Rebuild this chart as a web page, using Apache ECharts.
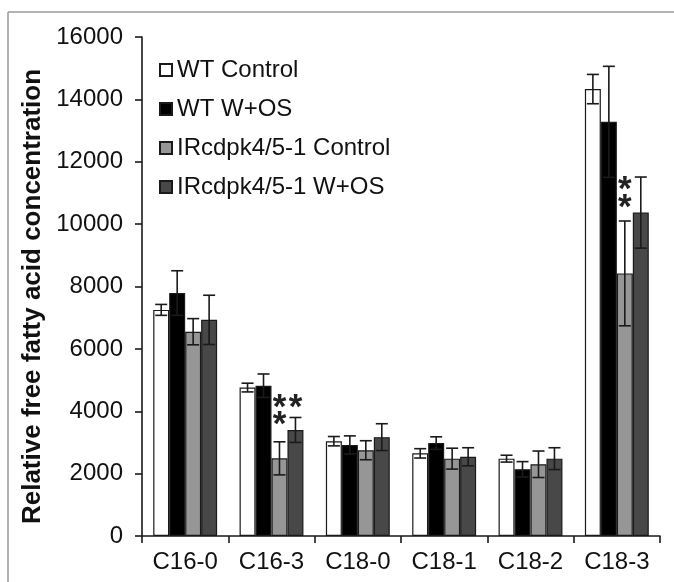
<!doctype html>
<html>
<head>
<meta charset="utf-8">
<title>Relative free fatty acid concentration</title>
<script src="https://cdn.jsdelivr.net/npm/echarts@6.0.0/dist/echarts.min.js"></script>
<style>
  html, body { margin: 0; padding: 0; background: #fff; }
  #chart { width: 674px; height: 582px; }
</style>
</head>
<body>
<div id="chart"></div>
<script>
// categories and values
var categories = ['C16-0', 'C16-3', 'C18-0', 'C18-1', 'C18-2', 'C18-3'];
var seriesNames = ['WT Control', 'WT W+OS', 'IRcdpk4/5-1 Control', 'IRcdpk4/5-1 W+OS'];

var wtControl    = [7250, 4760, 3040, 2650, 2480, 14330];
var wtControlErr = [175, 140, 150, 150, 110, 470];
var wtWos        = [7790, 4820, 2920, 2980, 2140, 13280];
var wtWosErr     = [715, 375, 290, 200, 245, 1780];
var irControl    = [6550, 2490, 2750, 2480, 2300, 8420];
var irControlErr = [420, 530, 305, 335, 425, 1680];
var irWos        = [6930, 3400, 3170, 2540, 2480, 10370];
var irWosErr     = [790, 400, 430, 290, 350, 1140];

// significance marks: [category index, bar slot, value where the star sits]
var stars = [[1, 2, 4360], [1, 2, 3810], [1, 3, 4360], [5, 2, 11350], [5, 2, 10770]];

var yTicks = [0, 2000, 4000, 6000, 8000, 10000, 12000, 14000, 16000];

var colors = ['#ffffff', '#000000', '#969696', '#484848'];
var values = [wtControl, wtWos, irControl, irWos];
var errors = [wtControlErr, wtWosErr, irControlErr, irWosErr];
var catGap = 0.26;
var font = '"Liberation Sans", Arial, sans-serif';

var chart = echarts.init(document.getElementById('chart'));

function slotX(api, cat, slot) {
  var band = api.size([1, 0])[0];
  var bw = band * (1 - catGap) / 4;
  return api.coord([cat, 0])[0] + (slot - 1.5) * bw;
}

function errorRender(slot) {
  return function (params, api) {
    var c = api.value(0), v = api.value(1), e = api.value(2);
    var x = slotX(api, c, slot);
    var top = api.coord([c, v + e])[1];
    var bot = api.coord([c, v - e])[1];
    var half = 6;
    var st = { stroke: '#1a1a1a', lineWidth: 1.6 };
    return {
      type: 'group',
      children: [
        { type: 'line', shape: { x1: x, y1: top, x2: x, y2: bot }, style: st },
        { type: 'line', shape: { x1: x - half, y1: top, x2: x + half, y2: top }, style: st },
        { type: 'line', shape: { x1: x - half, y1: bot, x2: x + half, y2: bot }, style: st }
      ]
    };
  };
}

var series = [];
for (var i = 0; i < 4; i++) {
  series.push({
    name: seriesNames[i],
    type: 'bar',
    data: values[i],
    barGap: 0,
    barCategoryGap: (catGap * 100) + '%',
    itemStyle: { color: colors[i], borderColor: '#1a1a1a', borderWidth: 1.2 }
  });
}
for (var j = 0; j < 4; j++) {
  var errData = [];
  for (var k = 0; k < categories.length; k++) {
    errData.push([k, values[j][k], errors[j][k]]);
  }
  series.push({
    name: 'err' + j,
    type: 'custom',
    renderItem: errorRender(j),
    data: errData,
    z: 5,
    silent: true
  });
}
series.push({
  name: 'stars',
  type: 'custom',
  data: stars,
  z: 6,
  silent: true,
  renderItem: function (params, api) {
    var c = api.value(0), slot = api.value(1), v = api.value(2);
    var x = slotX(api, c, slot);
    var y = api.coord([c, v])[1];
    return {
      type: 'text',
      x: x,
      y: y + 8,
      style: {
        text: '*',
        fontSize: 35,
        fontWeight: 'bold',
        fontFamily: font,
        fill: '#222',
        align: 'center',
        verticalAlign: 'middle'
      }
    };
  }
});

var option = {
  animation: false,
  backgroundColor: '#fff',
  grid: { left: 142, right: 14, top: 37, bottom: 46 },
  legend: {
    data: seriesNames,
    orient: 'vertical',
    left: 154,
    top: 53,
    itemWidth: 12,
    itemHeight: 12,
    itemGap: 15,
    icon: 'rect',
    textStyle: { fontSize: 24, fontFamily: font, color: '#111', lineHeight: 24 }
  },
  xAxis: {
    type: 'category',
    data: categories,
    axisLine: { lineStyle: { color: '#1a1a1a', width: 1.6 } },
    axisTick: { show: true, length: 7, lineStyle: { color: '#1a1a1a', width: 1.6 } },
    axisLabel: { fontSize: 24, fontFamily: font, color: '#111', margin: 14 }
  },
  yAxis: {
    type: 'value',
    min: yTicks[0],
    max: yTicks[yTicks.length - 1],
    interval: yTicks[1] - yTicks[0],
    name: 'Relative free fatty acid concentration',
    nameLocation: 'middle',
    nameGap: 85,
    nameTextStyle: {
      fontSize: 26, fontWeight: 'bold', fontFamily: font, color: '#111',
      padding: [0, 20, 0, 0]
    },
    splitLine: { show: false },
    axisLine: { show: true, lineStyle: { color: '#1a1a1a', width: 1.6 } },
    axisTick: { show: true, length: 7, lineStyle: { color: '#1a1a1a', width: 1.6 } },
    axisLabel: {
      fontSize: 24, fontFamily: font, color: '#111', margin: 19,
      formatter: function (v) { return String(v); }
    }
  },
  graphic: [
    { type: 'line', shape: { x1: 8, y1: 12, x2: 674, y2: 12 }, style: { stroke: '#9a9a9a', lineWidth: 1.5 } },
    { type: 'line', shape: { x1: 8, y1: 12, x2: 8, y2: 582 }, style: { stroke: '#9a9a9a', lineWidth: 1.5 } }
  ],
  series: series
};

chart.setOption(option);
</script>
</body>
</html>
